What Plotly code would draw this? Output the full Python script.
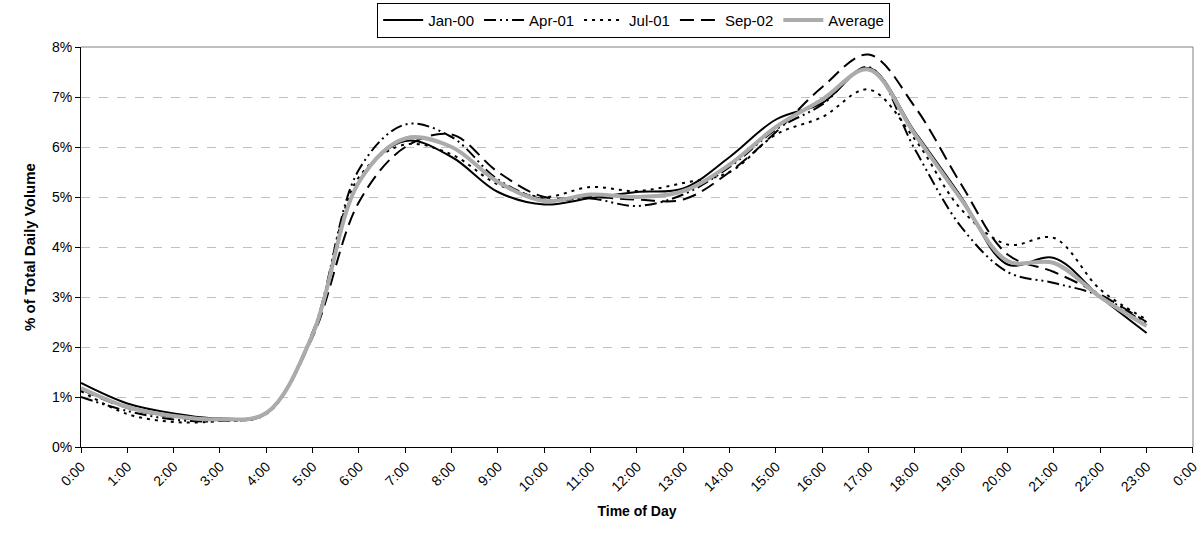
import plotly.graph_objects as go

hours = list(range(24))
tick_labels = [f"{h}:00" for h in range(24)] + ["0:00"]

jan_00 = [1.28, 0.87, 0.67, 0.57, 0.68, 2.25, 5.30, 6.12, 5.80, 5.10, 4.85, 4.98,
          5.10, 5.17, 5.80, 6.55, 6.88, 7.58, 6.30, 5.00, 3.65, 3.78, 3.00, 2.28]
apr_01 = [1.00, 0.72, 0.55, 0.52, 0.67, 2.30, 5.55, 6.45, 6.20, 5.35, 4.95, 4.97,
          4.82, 5.05, 5.60, 6.35, 6.85, 7.60, 5.95, 4.40, 3.50, 3.28, 3.02, 2.45]
jul_01 = [1.12, 0.66, 0.50, 0.52, 0.66, 2.25, 5.40, 6.05, 5.85, 5.25, 5.00, 5.20,
          5.12, 5.28, 5.50, 6.25, 6.60, 7.15, 6.15, 4.75, 4.05, 4.18, 3.15, 2.55]
sep_02 = [1.15, 0.78, 0.60, 0.55, 0.67, 2.20, 4.90, 6.00, 6.25, 5.50, 5.00, 5.00,
          4.95, 4.95, 5.50, 6.30, 7.20, 7.85, 6.80, 5.25, 3.85, 3.50, 3.05, 2.50]
average = [1.18, 0.80, 0.62, 0.55, 0.68, 2.25, 5.30, 6.17, 6.00, 5.30, 4.92, 5.05,
           5.00, 5.12, 5.65, 6.40, 6.95, 7.55, 6.25, 4.95, 3.72, 3.68, 3.00, 2.42]

series = [
    ("Jan-00", jan_00, "black", 2, "solid"),
    ("Apr-01", apr_01, "black", 2, "12px,4px,2px,4px,2px,4px"),
    ("Jul-01", jul_01, "black", 2, "3px,5px"),
    ("Sep-02", sep_02, "black", 2, "14px,7px"),
    ("Average", average, "#ababab", 4, "solid"),
]

fig = go.Figure()
for name, vals, color, width, dash in series:
    fig.add_trace(go.Scatter(
        x=hours, y=vals, name=name, mode="lines",
        line=dict(color=color, width=width, dash=dash, shape="spline", smoothing=1.0),
    ))

font_family = "Arial, Liberation Sans, sans-serif"

fig.update_layout(
    width=1199, height=536,
    margin=dict(l=81, r=6, t=47, b=89),
    paper_bgcolor="white", plot_bgcolor="white",
    font=dict(family=font_family, size=14, color="black"),
    showlegend=True,
    legend=dict(
        orientation="h", xref="paper", x=0.497, xanchor="center",
        yref="container", y=0.995, yanchor="top",
        bordercolor="black", borderwidth=1, bgcolor="white",
        font=dict(size=15), itemwidth=40, tracegroupgap=0,
    ),
    xaxis=dict(
        range=[0, 24.001], tickmode="array", tickvals=list(range(25)), ticktext=tick_labels,
        tickangle=-45, ticks="outside", ticklen=5, tickcolor="black",
        ticklabeloverflow="allow", automargin=False,
        showline=True, linecolor="black", linewidth=1,
        showgrid=False, zeroline=False,
        tickfont=dict(size=14),
        title=dict(text="<b>Time of Day</b>", font=dict(size=14), standoff=12),
    ),
    yaxis=dict(
        range=[0, 8], tickmode="array", tickvals=list(range(9)),
        ticktext=[f"{v}%" for v in range(9)],
        ticks="outside", ticklen=5, tickcolor="black",
        automargin=False,
        showline=True, linecolor="black", linewidth=1,
        showgrid=True, gridcolor="#c0c0c0", griddash="dash", gridwidth=1,
        zeroline=False, tickfont=dict(size=14),
        title=dict(text="<b>% of Total Daily Volume</b>", font=dict(size=15), standoff=12),
    ),
)

fig.add_shape(type="line", xref="paper", yref="paper", x0=0, x1=1, y0=1, y1=1,
              line=dict(color="#808080", width=1))
fig.add_shape(type="line", xref="paper", yref="paper", x0=1, x1=1, y0=0, y1=1,
              line=dict(color="#808080", width=1))

fig.write_html("out.html")
